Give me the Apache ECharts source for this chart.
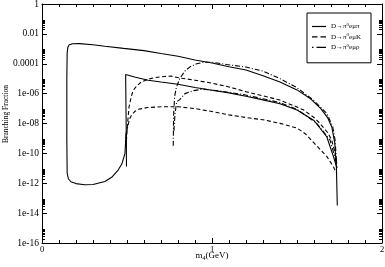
<!DOCTYPE html>
<html><head><meta charset="utf-8">
<script src="https://cdn.jsdelivr.net/npm/echarts@6/dist/echarts.min.js"></script>
<style>html,body{margin:0;padding:0;background:#fff}#c{width:385px;height:267px}</style>
</head><body><div id="c"></div>
<script>
// Tick labels
const xTickLabels = ['0', '1', '2'];
const yTickLabels = ['1e-16', '1e-14', '1e-12', '1e-10', '1e-08', '1e-06', '0.0001', '0.01', '1'];
const seriesNames = ['D→π0eμπ', 'D→π0eμK', 'D→π0eμρ'];
const legendRich = ['{a|D→π}{s|0}{a|eμπ}', '{a|D→π}{s|0}{a|eμK}', '{a|D→π}{s|0}{a|eμρ}'];
// log-axis minor tick positions (k × decade)
const minorTickMultipliers = [2, 3, 4, 5, 6, 7, 8, 9];
const minorTickDecades = [1e-2, 1e-4, 1e-6, 1e-8, 1e-10, 1e-12, 1e-14, 1e-16];

// D→π0eμπ, upper curve (with low-mass loop)
const piUpper = [
  [0.495, 2.5e-9], [0.488, 1.0e-10], [0.47, 2.0e-11], [0.449, 7.9e-12], [0.41, 2.5e-12],
  [0.37, 1.3e-12], [0.3, 8.3e-13], [0.25, 7.9e-13], [0.2, 9.5e-13], [0.17, 1.26e-12],
  [0.155, 2e-12], [0.148, 5e-12], [0.146, 1e-9], [0.146, 1e-5], [0.148, 5e-4],
  [0.152, 1.26e-3], [0.16, 1.86e-3], [0.18, 2.2e-3], [0.22, 2.24e-3], [0.3, 1.86e-3],
  [0.37, 1.48e-3], [0.48, 1.07e-3], [0.6, 7.6e-4], [0.7, 4.8e-4], [0.8, 3.2e-4],
  [0.9, 1.78e-4], [1.0, 1.12e-4], [1.1, 6.3e-5], [1.2, 3.8e-5], [1.3, 1.58e-5],
  [1.4, 6e-6], [1.5, 1.78e-6], [1.58, 4.5e-7], [1.64, 1e-7], [1.68, 2.5e-8],
  [1.705, 5.6e-9], [1.722, 5e-10], [1.732, 1e-11], [1.737, 3.2e-14]
];
// D→π0eμπ, lower curve
const piLower = [
  [0.497, 1.3e-11], [0.495, 1e-8], [0.492, 1.9e-5], [0.55, 1.26e-5], [0.625, 7.9e-6],
  [0.7, 6e-6], [0.8, 4.2e-6], [0.9, 2.6e-6], [1.0, 1.7e-6], [1.1, 1.12e-6],
  [1.2, 6.6e-7], [1.3, 3.8e-7], [1.4, 2.1e-7], [1.5, 7.9e-8], [1.6, 1.58e-8],
  [1.675, 1.3e-9], [1.714, 6.3e-11], [1.733, 1.26e-11]
];
// D→π0eμK
const kUpper = [
  [0.494, 2.5e-10], [0.498, 1.3e-9], [0.505, 1.6e-8], [0.512, 1.3e-7], [0.525, 6.3e-7],
  [0.537, 1.7e-6], [0.56, 3.5e-6], [0.586, 6.2e-6], [0.625, 9.3e-6], [0.665, 1.2e-5],
  [0.72, 1.4e-5], [0.76, 1.48e-5], [0.81, 1.12e-5], [0.9, 7.9e-6], [1.0, 5e-6],
  [1.1, 2.8e-6], [1.2, 1.35e-6], [1.3, 7.1e-7], [1.4, 3.7e-7], [1.5, 1.26e-7],
  [1.54, 7.9e-8], [1.6, 2.5e-8], [1.635, 1.02e-8], [1.68, 2.5e-9], [1.704, 7.9e-10],
  [1.72, 1.58e-10], [1.733, 2.2e-11]
];
const kLower = [
  [0.492, 4e-10], [0.497, 2.5e-9], [0.504, 6.2e-9], [0.515, 2e-8], [0.527, 3.7e-8],
  [0.545, 6.3e-8], [0.567, 8.9e-8], [0.62, 1.17e-7], [0.7, 1.32e-7], [0.8, 1.32e-7],
  [0.9, 1e-7], [1.0, 6.3e-8], [1.1, 3.8e-8], [1.2, 2.5e-8], [1.3, 1.78e-8],
  [1.4, 1.02e-8], [1.5, 5e-9], [1.55, 2e-9], [1.6, 5e-10], [1.675, 6.3e-11],
  [1.714, 1.3e-11], [1.73, 5e-12]
];
// D→π0eμρ
const rhoUpper = [
  [0.772, 3.2e-10], [0.774, 3.2e-8], [0.78, 6.3e-7], [0.79, 2.5e-6], [0.81, 1e-5],
  [0.84, 3.2e-5], [0.871, 6.2e-5], [0.91, 1e-4], [0.95, 1.26e-4], [1.0, 1.26e-4],
  [1.086, 8.9e-5], [1.2, 6e-5], [1.3, 3.2e-5], [1.4, 1e-5], [1.5, 2.5e-6],
  [1.596, 3.7e-7], [1.675, 4.8e-8], [1.71, 6.3e-9], [1.724, 7.9e-10], [1.735, 1e-11]
];
const rhoLower = [
  [0.776, 3.2e-9], [0.782, 4e-8], [0.792, 2.8e-7], [0.81, 4e-7], [0.841, 1e-6],
  [0.89, 1.58e-6], [0.949, 2e-6], [1.05, 1.48e-6], [1.18, 8.9e-7], [1.3, 4.5e-7],
  [1.4, 2.5e-7], [1.5, 8.9e-8], [1.616, 1.02e-8], [1.694, 7.9e-10], [1.733, 2.2e-11]
];

const FONT = 'Liberation Serif';
// y minor ticks: [x, y, side]; side 2 = left, 3 = right
const minorItems = [];
minorTickDecades.forEach(d => minorTickMultipliers.forEach(k => {
  minorItems.push([0, k * d, 2]); minorItems.push([2, k * d, 3]);
}));

// legend icons: solid, dashed, dash-dot
const legendIcons = [
  'path://M0,0h14v1.2h-14z',
  'path://M0,0h5.5v1.2h-5.5zM8.5,0h5.5v1.2h-5.5z',
  'path://M0,0h1.5v1.2h-1.5zM4.5,0h9.5v1.2h-9.5z'
];

function yLabel(v) {
  const e = Math.round(Math.log10(v));
  const i = (e + 16) / 2;
  return yTickLabels[i] !== undefined ? yTickLabels[i] : '';
}

function lineSeries(name, data, type) {
  return {
    name: name, type: 'line', data: data, symbol: 'none', showSymbol: false,
    smooth: false, clip: true, animation: false, xAxisIndex: 0, yAxisIndex: 0,
    lineStyle: { color: '#000', width: 1.1, type: type },
    itemStyle: { color: '#000' }
  };
}

const tickLine = { color: '#000', width: 1 };
function xAx(pos, showLabel) {
  return {
    type: 'value', min: 0, max: 2, interval: 1, position: pos,
    axisLine: { show: true, onZero: false, lineStyle: { color: '#000', width: 1 } },
    axisTick: { show: true, inside: true, length: 5, lineStyle: tickLine },
    minorTick: { show: true, splitNumber: 10, length: 3, lineStyle: tickLine },
    splitLine: { show: false }, minorSplitLine: { show: false },
    axisLabel: { show: showLabel, margin: 2, fontFamily: FONT, fontSize: 8.5, color: '#000',
      formatter: v => xTickLabels[Math.round(v)] }
  };
}
function yAx(pos, showLabel) {
  return {
    type: 'log', logBase: 100, min: 1e-16, max: 1, position: pos,
    axisLine: { show: true, onZero: false, lineStyle: { color: '#000', width: 1 } },
    axisTick: { show: true, inside: true, length: 5, lineStyle: tickLine },
    splitLine: { show: false },
    axisLabel: { show: showLabel, margin: 3, fontFamily: FONT, fontSize: 9.5, color: '#000', formatter: yLabel }
  };
}

const chart = echarts.init(document.getElementById('c'), null, { renderer: 'canvas' });
chart.setOption({
  animation: false,
  backgroundColor: '#fff',
  grid: { left: 42, right: 3, top: 4, bottom: 24, containLabel: false, outerBoundsMode: 'none' },
  xAxis: [xAx('bottom', true), xAx('top', false)],
  yAxis: [yAx('left', true), yAx('right', false)],
  legend: {
    data: seriesNames.map((n, i) => ({ name: n, icon: legendIcons[i] })),
    orient: 'vertical', right: 14, top: 13,
    itemWidth: 14, itemHeight: 10, itemGap: 2.4, symbolKeepAspect: true,
    padding: [9, 10, 12, 5], borderColor: '#000', borderWidth: 1,
    selectedMode: false,
    formatter: name => legendRich[seriesNames.indexOf(name)],
    textStyle: {
      fontFamily: FONT, fontSize: 7, color: '#000',
      rich: {
        a: { fontFamily: FONT, fontSize: 7, color: '#000' },
        s: { fontFamily: FONT, fontSize: 5, color: '#000', padding: [0, 0, 4, 0] }
      }
    }
  },
  graphic: [
    {
      type: 'text', left: 2, top: 85, rotation: Math.PI / 2,
      style: { text: 'Branching Fraction', font: '7.5px "Liberation Serif"', fill: '#000' }
    },
    {
      type: 'text', x: 212, y: 256,
      style: {
        text: '{m|m}{s|4}{m|(GeV)}', fill: '#000', align: 'center', verticalAlign: 'middle',
        rich: {
          m: { fontFamily: FONT, fontSize: 9, color: '#000' },
          s: { fontFamily: FONT, fontSize: 6, color: '#000', padding: [4, 0, 0, 0] }
        }
      }
    }
  ],
  series: [
    lineSeries(seriesNames[0], piUpper, 'solid'),
    lineSeries(seriesNames[0], piLower, 'solid'),
    lineSeries(seriesNames[1], kUpper, [4, 2.5]),
    lineSeries(seriesNames[1], kLower, [4, 2.5]),
    lineSeries(seriesNames[2], rhoUpper, [5, 2, 1, 2]),
    lineSeries(seriesNames[2], rhoLower, [5, 2, 1, 2]),
    {
      name: 'minorTicks', type: 'custom', data: minorItems, clip: false, silent: true,
      xAxisIndex: 0, yAxisIndex: 0,
      renderItem: (params, api) => {
        const p = api.coord([api.value(0), api.value(1)]);
        const side = api.value(2);
        const y = Math.round(p[1]) + 0.5;
        const x2 = side === 2 ? p[0] + 3 : p[0] - 3;
        return { type: 'line', shape: { x1: p[0], y1: y, x2: x2, y2: y }, style: { stroke: '#000', lineWidth: 1 } };
      }
    }
  ]
});
</script></body></html>
